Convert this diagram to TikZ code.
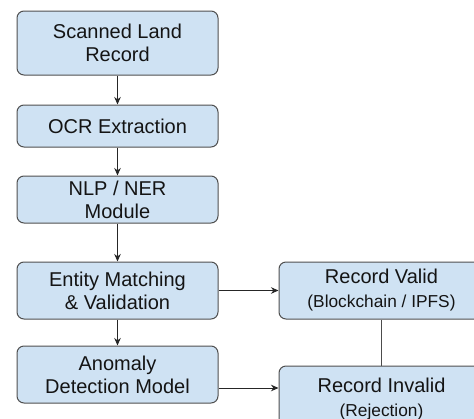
\documentclass[tikz,border=0pt]{standalone}
\usepackage{fontspec}
\setmainfont{Liberation Sans}
\usetikzlibrary{arrows.meta}
\definecolor{boxfill}{HTML}{CFE2F3}
\definecolor{boxline}{HTML}{505050}
\definecolor{txt}{HTML}{141414}
\begin{document}
\begin{tikzpicture}[x=1pt,y=-1pt,
  box/.style={draw=boxline, line width=1pt, fill=boxfill, rounded corners=7pt,
    minimum width=201pt, align=center, text=txt, inner sep=0pt,
    font=\fontsize{20}{23}\selectfont},
  arr/.style={draw=black!85, line width=0.9pt, -{Stealth[length=7.5pt,width=6.5pt]}},
  ln/.style={draw=black!70, line width=0.9pt}]
\useasboundingbox (0,0) rectangle (474,418);
\fill[white] (0,0) rectangle (474,418);
\begin{scope}
\clip (0,0) rectangle (474,418);
\node[box, minimum height=64pt] (scan) at (117.5,43) {Scanned Land\\Record};
\node[box, minimum height=42pt] (ocr) at (117.5,126) {OCR Extraction};
\node[box, minimum height=47pt] (nlp) at (117.5,199.5) {NLP / NER\\Module};
\node[box, minimum height=57pt] (ent) at (117.5,290.5) {Entity Matching\\\& Validation};
\node[box, minimum height=57pt] (anom) at (117.5,374.5) {Anomaly\\Detection Model};
\node[box, minimum height=57pt, minimum width=205pt] (valid) at (381.5,290.5)
  {Record Valid\\[1pt]{\fontsize{17.3}{20}\selectfont (Blockchain / IPFS)}};
\node[box, minimum height=67pt, minimum width=205pt] (invalid) at (381.5,399.5)
  {Record Invalid\\[1pt]{\fontsize{17.3}{20}\selectfont (Rejection)}};
\draw[arr] (scan) -- (ocr);
\draw[arr] (ocr) -- (nlp);
\draw[arr] (nlp) -- (ent);
\draw[arr] (ent) -- (anom);
\draw[arr] (ent.east) -- (valid.west);
\draw[arr] ([yshift=-13.5pt]anom.east) -- ([yshift=-13.5pt]anom.east -| invalid.west);
\draw[ln] (valid) -- (invalid);
\end{scope}
\end{tikzpicture}
\end{document}
